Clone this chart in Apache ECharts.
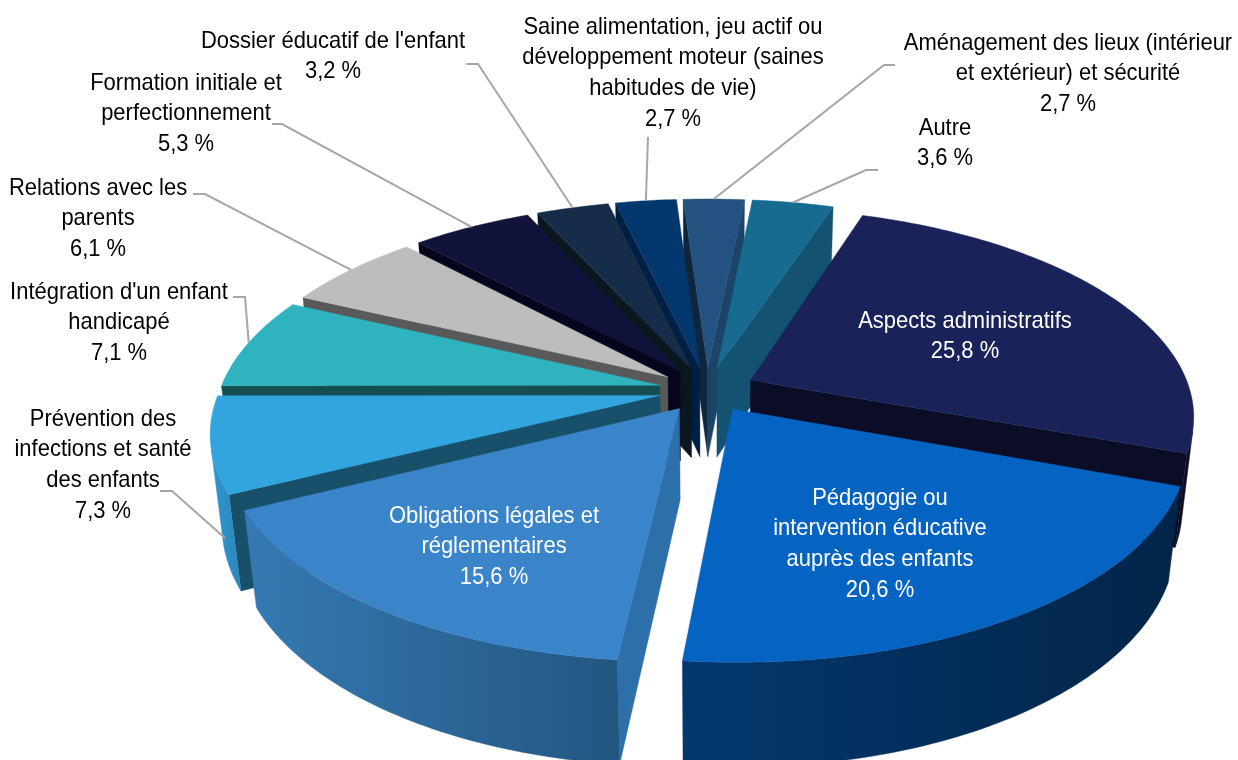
<!DOCTYPE html>
<html>
<head>
    <meta charset="utf-8">
    <title>ECharts</title>
    <script src="https://cdn.jsdelivr.net/npm/echarts@6/dist/echarts.min.js"></script>
    <style>html,body{margin:0;background:#fff}</style>
</head>
<body>
    <div id="pie" style="width:1238px;height:760px;"></div>
    <script type="text/javascript">
    // data, clockwise from the first slice
    var categories = [
      'Aspects administratifs',
      'Pédagogie ou\nintervention éducative\nauprès des enfants',
      'Obligations légales et\nréglementaires',
      'Prévention des\ninfections et santé\ndes enfants',
      "Intégration d'un enfant\nhandicapé",
      'Relations avec les\nparents',
      'Formation initiale et\nperfectionnement',
      "Dossier éducatif de l'enfant",
      'Saine alimentation, jeu actif ou\ndéveloppement moteur (saines\nhabitudes de vie)',
      'Aménagement des lieux (intérieur\net extérieur) et sécurité',
      'Autre'
    ]
    var values = [25.8, 20.6, 15.6, 7.3, 7.1, 6.1, 5.3, 3.2, 2.7, 2.7, 3.6]

    // colours
    var topColors = ['#1a2359', '#0563c1', '#3a85c9', '#33a5de', '#2fb4bf', '#bdbdbd', '#11133b', '#152d49', '#05376f', '#235180', '#176b91']
    var wallLeft = ['#0b0d26', '#03386f', '#3679b3', '#3096cf', '#2aa0aa', '#8a8a8a', '#0b0d26', '#0e2033', '#03264e', '#193a5c', '#115070']
    var wallRight = ['#0b0d26', '#012548', '#225680', '#2c86ba', '#2aa0aa', '#8a8a8a', '#0b0d26', '#0e2033', '#03264e', '#193a5c', '#115070']
    var startWall = ['#0b0d26', '#0b0d26', '#2d6fa8', '#175068', '#154e50', '#595959', '#05061c', '#0a1620', '#011f42', '#10263c', '#115070']
    var endWall = ['#0b0d26', '#0b0d26', '#2d6fa8', '#175068', '#154e50', '#595959', '#05061c', '#0a1620', '#011f42', '#1b4468', '#135270']
    var textColors = ['#fff', '#fff', '#fff', '#000', '#000', '#000', '#000', '#000', '#000', '#000', '#000']

    // label centre, first line y, leader elbow points
    var labelPlace = [
      {x: 965, y: 321},
      {x: 880, y: 498},
      {x: 494, y: 516},
      {x: 103, y: 419, leader: [[160, 491], [172, 491]], lineZ: -0.17, lineAt: 0.25},
      {x: 119, y: 292, leader: [[233, 297], [245, 297]]},
      {x: 98, y: 188, leader: [[193, 194], [205, 194]]},
      {x: 186, y: 83, leader: [[272, 124], [282, 124]]},
      {x: 333, y: 41, leader: [[466, 64], [478, 64]]},
      {x: 673, y: 27, leader: [[648, 137]]},
      {x: 1068, y: 43, leader: [[895, 65], [884, 65]]},
      {x: 945, y: 128, leader: [[878, 170], [866, 170]]}
    ]

    // 3d view
    var startAngle = 18.8
    var explode = 0.11
    var rimShift = 0.028
    var height3d = 0.237
    var tilt = 27.6 * Math.PI / 180
    var camDist = 4.65
    var focal = 440 * camDist
    var cx = 707
    var cy = 389.6

    var total = values.reduce(function (a, b) { return a + b }, 0)
    var slices = []
    var acc = startAngle
    values.forEach(function (v) {
      var sweep = v / total * 360
      slices.push({from: acc, to: acc + sweep, mid: acc + sweep / 2})
      acc += sweep
    })

    function rad(a) { return a * Math.PI / 180 }

    function project(X, Y, Z) {
      var w = camDist + Y * Math.cos(tilt) - Z * Math.sin(tilt)
      return [cx + focal * X / w, cy - focal * (Y * Math.sin(tilt) + Z * Math.cos(tilt)) / w]
    }

    // point on the outer edge of a slice
    function rim(ox, oy, angle) {
      return [ox + Math.sin(rad(angle)), oy + Math.cos(rad(angle)) + rimShift]
    }

    // true if a wall at point p with normal n looks at the camera
    function facing(px, py, nx, ny) {
      var camY = -camDist * Math.cos(tilt)
      return (0 - px) * nx + (camY - py) * ny > 0
    }

    function polygon(points, fill, z2) {
      return {
        type: 'polygon',
        z2: z2,
        shape: {points: points},
        style: {fill: fill, stroke: fill, lineWidth: 0.4},
        silent: true
      }
    }

    function buildSlice(i, order) {
      var s = slices[i]
      var ox = explode * Math.sin(rad(s.mid))
      var oy = explode * Math.cos(rad(s.mid))
      var children = []
      var z = order * 10

      var apexTop = project(ox, oy, 0)
      var apexBottom = project(ox, oy, -height3d)
      var rimTop = []
      var steps = Math.max(6, Math.ceil(s.to - s.from))
      for (var k = 0; k <= steps; k++) {
        var deg = s.from + (s.to - s.from) * k / steps
        var p = rim(ox, oy, deg)
        rimTop.push([p[0], p[1], rad(deg)])
      }

      // side walls
      var a = rim(ox, oy, s.from)
      var b = rim(ox, oy, s.to)
      if (facing(ox, oy, -Math.cos(rad(s.from)), Math.sin(rad(s.from)))) {
        children.push(polygon([apexTop, project(a[0], a[1], 0), project(a[0], a[1], -height3d), apexBottom], startWall[i], z + 1))
      }
      if (facing(ox, oy, Math.cos(rad(s.to)), -Math.sin(rad(s.to)))) {
        children.push(polygon([apexTop, project(b[0], b[1], 0), project(b[0], b[1], -height3d), apexBottom], endWall[i], z + 1))
      }

      // outer wall, front facing part only
      var upper = []
      var lower = []
      rimTop.forEach(function (p) {
        if (facing(p[0], p[1], Math.sin(p[2]), Math.cos(p[2]))) {
          upper.push(project(p[0], p[1], 0))
          lower.unshift(project(p[0], p[1], -height3d))
        }
      })
      if (upper.length > 1) {
        children.push(polygon(upper.concat(lower), {
          type: 'linear', x: 0, y: 0, x2: 1, y2: 0,
          colorStops: [{offset: 0, color: wallLeft[i]}, {offset: 1, color: wallRight[i]}]
        }, z + 2))
      }

      // top face
      var top = [apexTop]
      rimTop.forEach(function (p) { top.push(project(p[0], p[1], 0)) })
      children.push(polygon(top, topColors[i], z + 3))

      return children
    }

    function buildLabel(i) {
      var place = labelPlace[i]
      var s = slices[i]
      var children = []
      var lines = categories[i].split('\n')
      lines.push(values[i].toFixed(1).replace('.', ',') + ' %')
      lines.forEach(function (line, n) {
        children.push({
          type: 'text',
          z2: 1000,
          x: place.x,
          y: place.y + n * 30.8,
          scaleX: 0.915,
          style: {
            text: line,
            fill: textColors[i],
            font: '24px "Liberation Sans", Arial, sans-serif',
            textAlign: 'center',
            textVerticalAlign: 'middle'
          }
        })
      })
      if (place.leader) {
        var ox = explode * Math.sin(rad(s.mid))
        var oy = explode * Math.cos(rad(s.mid))
        var at = place.lineAt === undefined ? 0.5 : place.lineAt
        var p = rim(ox, oy, s.from + (s.to - s.from) * at)
        var end = project(p[0], p[1], place.lineZ || 0)
        children.push({
          type: 'polyline',
          z2: 900,
          shape: {points: place.leader.concat([end])},
          style: {stroke: '#a6a6a6', lineWidth: 2, fill: null}
        })
      }
      return children
    }

    // draw far slices first
    var drawOrder = values.map(function (v, i) { return i }).sort(function (p, q) {
      return Math.cos(rad(slices[q].mid)) - Math.cos(rad(slices[p].mid))
    })

    var chart = echarts.init(document.getElementById('pie'))
    chart.setOption({
      animation: false,
      backgroundColor: '#fff',
      series: [{
        type: 'custom',
        coordinateSystem: 'none',
        clip: false,
        data: drawOrder.map(function (i) { return [i] }),
        renderItem: function (params, api) {
          var i = api.value(0)
          return {
            type: 'group',
            children: buildSlice(i, params.dataIndex).concat(buildLabel(i))
          }
        }
      }]
    })
    </script>
</body>
</html>
